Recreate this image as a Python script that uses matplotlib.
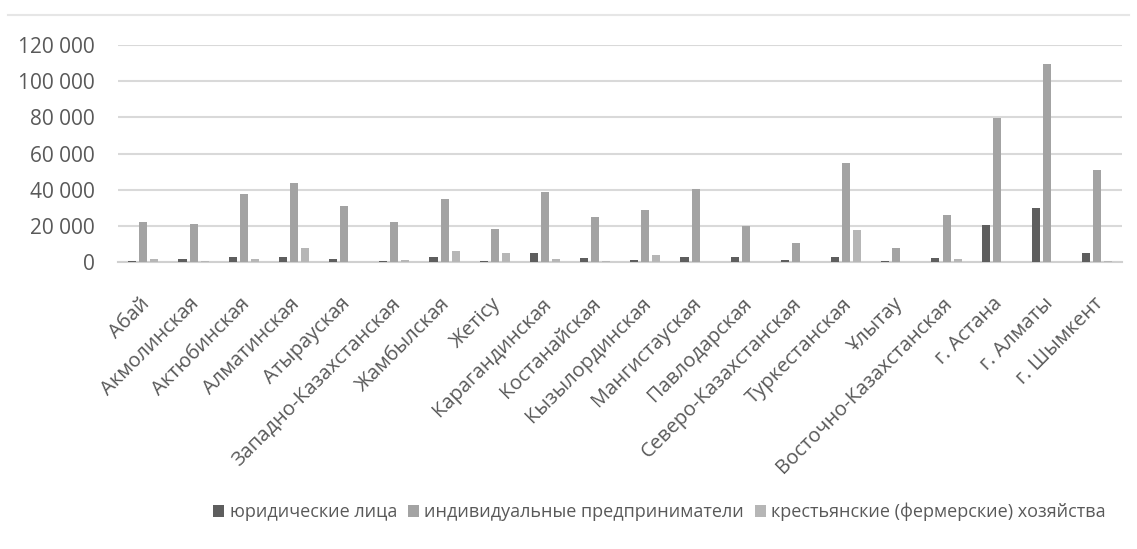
import matplotlib
matplotlib.use("Agg")
import matplotlib.pyplot as plt
import matplotlib.transforms as mtransforms
import numpy as np
from matplotlib.ticker import FuncFormatter

categories = ["Абай", "Акмолинская", "Актюбинская", "Алматинская", "Атырауская",
              "Западно-Казахстанская", "Жамбылская", "Жетісу", "Карагандинская",
              "Костанайская", "Кызылординская", "Мангистауская", "Павлодарская",
              "Северо-Казахстанская", "Туркестанская", "Ұлытау",
              "Восточно-Казахстанская", "г. Астана", "г. Алматы", "г. Шымкент"]
legal = [300, 1500, 3000, 3000, 1500, 500, 2700, 300, 5000, 2000, 1000, 2700,
         2500, 1000, 2900, 300, 2000, 20400, 29600, 5100]
individual = [22200, 21000, 37400, 43800, 30900, 22200, 34600, 18200, 38800, 24700,
              28900, 40100, 19700, 10700, 54800, 7500, 25900, 79700, 109300, 50800]
farm = [1500, 500, 1500, 7500, 200, 1000, 6200, 5000, 1500, 500, 4000, 200,
        200, 200, 17700, 200, 1500, 200, 200, 800]
series_names = ["юридические лица", "индивидуальные предприниматели",
                "крестьянские (фермерские) хозяйства"]
yticks = [0, 20000, 40000, 60000, 80000, 100000, 120000]

plt.rcParams['font.family'] = ['Open Sans', 'DejaVu Sans']
text_color = "#595959"

fig = plt.figure(figsize=(11.37, 5.49), dpi=100)
fig.patch.set_facecolor("white")
ax = fig.add_axes([0.104, 0.5228, 0.883, 0.3952])

x = np.arange(len(categories))
w = 0.16
off = 0.22
colors = ["#5e5e5e", "#a3a3a3", "#b6b6b6"]
for vals, dx, c, name in zip([legal, individual, farm], [-off, 0, off], colors, series_names):
    ax.bar(x + dx, vals, width=w, color=c, label=name, zorder=3)

ax.set_xlim(-0.5, len(categories) - 0.5)
ax.set_ylim(0, 120000)
ax.set_yticks(yticks)
ax.yaxis.set_major_formatter(FuncFormatter(lambda v, p: f"{int(v):,}".replace(",", " ")))
ax.grid(axis="y", color="#d9d9d9", linewidth=1.5, zorder=0)
for s in ["top", "right", "left"]:
    ax.spines[s].set_visible(False)
ax.spines["bottom"].set_color("#d0d0d0")
ax.spines["bottom"].set_linewidth(1.5)
ax.tick_params(axis="y", length=0, pad=17, labelsize=15, labelcolor=text_color)
ax.tick_params(axis="x", length=0, pad=23, labelsize=14.5, labelcolor=text_color)
ax.set_xticks(x)
ax.set_xticklabels(categories, rotation=45, ha="right", va="top", rotation_mode="anchor")
shift = mtransforms.ScaledTranslation(-4 / 100, 0, fig.dpi_scale_trans)
for lab in ax.get_xticklabels():
    lab.set_transform(lab.get_transform() + shift)

leg = fig.legend(loc="center", bbox_to_anchor=(0.58, 0.067), ncol=3, frameon=False,
                 fontsize=13, handlelength=0.6, handleheight=0.6, handletextpad=0.3,
                 columnspacing=0.6, labelcolor=text_color)

fig.add_artist(plt.Line2D([0.007, 0.993], [1 - 15 / 549, 1 - 15 / 549],
                          transform=fig.transFigure, color="#e6e6e6", linewidth=1.5))

fig.savefig("out.png", dpi=100, facecolor="white")
